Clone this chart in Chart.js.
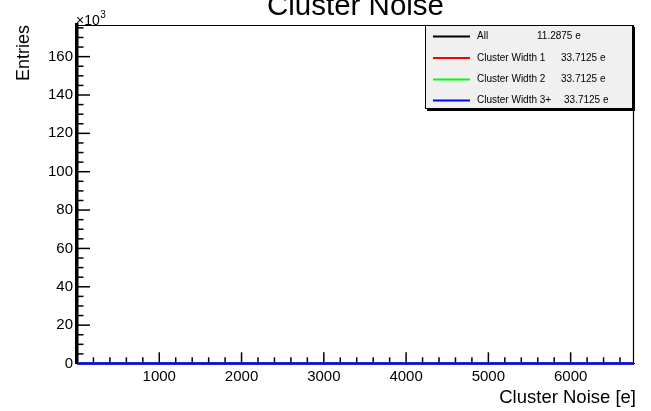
<!DOCTYPE html>
<html><head><meta charset="utf-8">
<script src="https://cdn.jsdelivr.net/npm/chart.js@4.4.0/dist/chart.umd.min.js"></script>
<style>html,body{margin:0;padding:0;background:#fff;}</style>
</head><body>
<canvas id="c" width="651" height="411" style="display:block;width:651px;height:411px"></canvas>
<script>
// ---- data ----
const noiseBins = [0, 500, 1000, 1500, 2000, 2500, 3000, 3500, 4000, 4500, 5000, 5500, 6000, 6500, 6770];
const seriesLabels = ['All', 'Cluster Width 1', 'Cluster Width 2', 'Cluster Width 3+'];
const meanNoise = ['11.2875 e', '33.7125 e', '33.7125 e', '33.7125 e'];
const entriesAll    = [0, 0, 0, 0, 0, 0, 0, 0, 0, 0, 0, 0, 0, 0, 0];
const entriesWidth1 = [0, 0, 0, 0, 0, 0, 0, 0, 0, 0, 0, 0, 0, 0, 0];
const entriesWidth2 = [0, 0, 0, 0, 0, 0, 0, 0, 0, 0, 0, 0, 0, 0, 0];
const entriesWidth3 = [0, 0, 0, 0, 0, 0, 0, 0, 0, 0, 0, 0, 0, 0, 0];
const seriesColors = ['#000000', '#ff0000', '#00ff00', '#0000ff'];
const xRange = [0, 6770];
const yRange = [0, 176500];
const xMajorStep = 1000, xMinorStep = 200;
const yMajorStep = 20000, yMinorStep = 5000;

const FONT = "'Liberation Sans', Arial, Helvetica, sans-serif";
const allSeries = [entriesAll, entriesWidth1, entriesWidth2, entriesWidth3];

const datasets = allSeries.map((vals, i) => ({
  label: seriesLabels[i],
  data: noiseBins.map((x, j) => ({x: x, y: vals[j]})),
  borderColor: seriesColors[i],
  backgroundColor: seriesColors[i],
  borderWidth: i === 3 ? 2.5 : 1.5,
  pointRadius: 0,
  fill: false,
  tension: 0,
  clip: false,
  order: 3 - i
}));

const isMult = (v, m) => Math.abs(v / m - Math.round(v / m)) < 1e-6;
function stepTicks(scale, step) {
  const t = [];
  for (let k = 0; k * step <= scale.max + 1e-9; k++) t.push({value: k * step});
  scale.ticks = t;
}

const decor = {
  id: 'decor',
  afterDraw(chart) {
    const ctx = chart.ctx, a = chart.chartArea;
    const xs = chart.scales.x, ys = chart.scales.y;
    ctx.save();
    // frame
    ctx.strokeStyle = '#000';
    ctx.lineWidth = 1.2;
    ctx.beginPath();
    ctx.moveTo(a.left, a.top + 0.5); ctx.lineTo(a.right, a.top + 0.5);
    ctx.moveTo(a.right - 0.5, a.top); ctx.lineTo(a.right - 0.5, a.bottom);
    ctx.stroke();
    // ticks
    ctx.lineWidth = 1.5;
    xs.ticks.forEach(t => {
      const x = xs.getPixelForValue(t.value);
      if (x <= a.left + 1 || x >= a.right - 1) return;
      const L = isMult(t.value, xMajorStep) ? 10 : 5;
      ctx.beginPath(); ctx.moveTo(x, a.bottom - 1.2); ctx.lineTo(x, a.bottom - 1.2 - L); ctx.stroke();
    });
    ys.ticks.forEach(t => {
      const y = ys.getPixelForValue(t.value);
      if (y <= a.top + 1 || y >= a.bottom - 1) return;
      const L = isMult(t.value, yMajorStep) ? 13 : 6.5;
      ctx.beginPath(); ctx.moveTo(a.left, y); ctx.lineTo(a.left + L, y); ctx.stroke();
    });
    // title
    ctx.fillStyle = '#000';
    ctx.font = '29.5px ' + FONT;
    ctx.textAlign = 'center'; ctx.textBaseline = 'alphabetic';
    ctx.fillText('Cluster Noise', (a.left + a.right) / 2, 15);
    // exponent label
    ctx.textAlign = 'left';
    ctx.font = '14px ' + FONT;
    ctx.fillText('\u00d710', a.left - 1, 24.5);
    const w = ctx.measureText('\u00d710').width;
    ctx.font = '10px ' + FONT;
    ctx.fillText('3', a.left - 1 + w + 0.5, 17.5);
    // x title
    ctx.font = '18.5px ' + FONT;
    ctx.textAlign = 'right';
    ctx.fillText('Cluster Noise [e]', a.right + 2, 403);
    // y title
    ctx.save();
    ctx.translate(29.3, a.top);
    ctx.rotate(-Math.PI / 2);
    ctx.font = '18px ' + FONT;
    ctx.textAlign = 'right';
    ctx.fillText('Entries', 0, 0);
    ctx.restore();
    // legend
    const bx = 425, by = 25, bw = 208, bh = 84;
    ctx.fillStyle = '#000';
    ctx.fillRect(bx + 2, by + 2, bw, bh);
    ctx.fillStyle = '#f0f0f0';
    ctx.fillRect(bx, by, bw, bh);
    ctx.lineWidth = 1;
    ctx.strokeStyle = '#000';
    ctx.strokeRect(bx + 0.5, by + 0.5, bw - 1, bh - 1);
    const rowY = [36.5, 58, 79.5, 100.5];
    const valX = [537, 561, 561, 564];
    ctx.font = '10px ' + FONT;
    ctx.textBaseline = 'middle';
    ctx.textAlign = 'left';
    chart.data.datasets.forEach((ds, i) => {
      ctx.strokeStyle = ds.borderColor;
      ctx.lineWidth = 2;
      ctx.beginPath(); ctx.moveTo(433, rowY[i]); ctx.lineTo(470, rowY[i]); ctx.stroke();
      ctx.fillStyle = '#000';
      ctx.fillText(ds.label, 477, rowY[i]);
      ctx.fillText(meanNoise[i], valX[i], rowY[i]);
    });
    ctx.restore();
  }
};

new Chart(document.getElementById('c'), {
  type: 'line',
  data: { datasets: datasets },
  plugins: [decor],
  options: {
    responsive: false,
    animation: false,
    devicePixelRatio: 1,
    layout: { padding: { top: 25, right: 17, left: 0, bottom: 0 } },
    plugins: { legend: { display: false }, tooltip: { enabled: false }, title: { display: false } },
    scales: {
      x: {
        type: 'linear', min: xRange[0], max: xRange[1],
        afterBuildTicks(s) { stepTicks(s, xMinorStep); },
        afterFit(s) { s.height = 47.5; },
        grid: { display: false, drawTicks: false },
        border: { display: true, color: '#0000ff', width: 1 },
        ticks: {
          autoSkip: false, maxRotation: 0, minRotation: 0,
          color: '#000', font: { family: FONT, size: 15 }, padding: 4,
          callback: v => (v > 0 && isMult(v, xMajorStep)) ? String(Math.round(v)) : ''
        }
      },
      y: {
        type: 'linear', min: yRange[0], max: yRange[1],
        afterBuildTicks(s) { stepTicks(s, yMinorStep); },
        afterFit(s) { s.width = 77; },
        grid: { display: false, drawTicks: false },
        border: { display: true, color: '#000', width: 3.5 },
        ticks: {
          autoSkip: false,
          color: '#000', font: { family: FONT, size: 15 }, padding: 4,
          callback: v => isMult(v, yMajorStep) ? String(Math.round(v / 1000)) : ''
        }
      }
    }
  }
});
</script>
</body></html>
